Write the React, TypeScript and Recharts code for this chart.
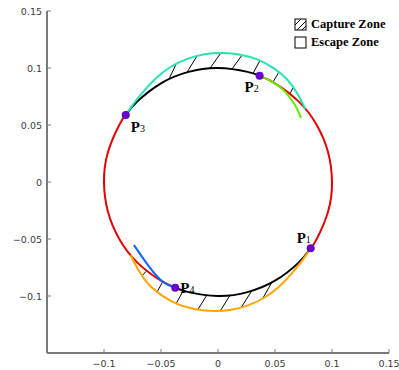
import { ComposedChart, Line, Scatter, XAxis, YAxis, ReferenceLine } from 'recharts';

const TICKS = [-0.1, -0.05, 0, 0.05, 0.1, 0.15];

// circle arcs (radius 0.1)
const blackTop = [
  { x: -0.0809, y: 0.0588 }, { x: -0.0707, y: 0.0707 }, { x: -0.05, y: 0.0866 },
  { x: -0.0259, y: 0.0966 }, { x: 0, y: 0.1 }, { x: 0.0259, y: 0.0966 }, { x: 0.0365, y: 0.0931 },
];
const redRight = [
  { x: 0.0365, y: 0.0931 }, { x: 0.05, y: 0.0866 }, { x: 0.0707, y: 0.0707 }, { x: 0.0866, y: 0.05 },
  { x: 0.0966, y: 0.0259 }, { x: 0.1, y: 0 }, { x: 0.0966, y: -0.0259 }, { x: 0.0866, y: -0.05 },
  { x: 0.0813, y: -0.0582 },
];
const blackBottom = [
  { x: 0.0813, y: -0.0582 }, { x: 0.0707, y: -0.0707 }, { x: 0.05, y: -0.0866 },
  { x: 0.0259, y: -0.0966 }, { x: 0, y: -0.1 }, { x: -0.0259, y: -0.0966 }, { x: -0.0375, y: -0.0927 },
];
const redLeft = [
  { x: -0.0375, y: -0.0927 }, { x: -0.05, y: -0.0866 }, { x: -0.0707, y: -0.0707 },
  { x: -0.0866, y: -0.05 }, { x: -0.0966, y: -0.0259 }, { x: -0.1, y: 0 },
  { x: -0.0966, y: 0.0259 }, { x: -0.0866, y: 0.05 }, { x: -0.0809, y: 0.0588 },
];

// outer boundaries of the capture zones
const cyanCurve = [
  { x: -0.0809, y: 0.0588 }, { x: -0.0728, y: 0.0703 }, { x: -0.0636, y: 0.0814 },
  { x: -0.0532, y: 0.0921 }, { x: -0.0409, y: 0.1013 }, { x: -0.0269, y: 0.108 },
  { x: -0.0118, y: 0.1121 }, { x: 0.004, y: 0.1132 }, { x: 0.0197, y: 0.1116 },
  { x: 0.0349, y: 0.1073 }, { x: 0.0487, y: 0.0999 }, { x: 0.0607, y: 0.0899 },
  { x: 0.0697, y: 0.0774 }, { x: 0.0766, y: 0.0643 },
];
const orangeCurve = [
  { x: -0.0766, y: -0.0643 }, { x: -0.0697, y: -0.0774 }, { x: -0.0607, y: -0.0899 },
  { x: -0.0487, y: -0.0999 }, { x: -0.0349, y: -0.1073 }, { x: -0.0197, y: -0.1116 },
  { x: -0.004, y: -0.1132 }, { x: 0.0118, y: -0.1121 }, { x: 0.0269, y: -0.108 },
  { x: 0.0409, y: -0.1013 }, { x: 0.0532, y: -0.0921 }, { x: 0.0636, y: -0.0814 },
  { x: 0.0728, y: -0.0703 }, { x: 0.0813, y: -0.0582 },
];
const greenCurve = [
  { x: 0.0365, y: 0.0931 }, { x: 0.0544, y: 0.0833 }, { x: 0.0675, y: 0.0675 }, { x: 0.0728, y: 0.0561 },
];
const blueCurve = [
  { x: -0.0737, y: -0.0553 }, { x: -0.0596, y: -0.0754 }, { x: -0.0482, y: -0.0877 }, { x: -0.0375, y: -0.0927 },
];

// hatch segments [x1, y1, x2, y2]
const hatchTop = [
  [-0.043, 0.0903, -0.0367, 0.1036], [-0.0272, 0.0962, -0.0184, 0.1106],
  [-0.007, 0.0998, 0.0026, 0.1133], [0.0123, 0.0992, 0.0211, 0.1113],
  [0.0307, 0.0952, 0.0368, 0.1065], [0.0482, 0.0876, 0.0534, 0.0964],
  [0.0632, 0.0775, 0.066, 0.083],
];
const hatchBottom = [
  [-0.0666, -0.0822, -0.0626, -0.078], [-0.0534, -0.0964, -0.0485, -0.0875],
  [-0.0367, -0.1065, -0.0304, -0.0953], [-0.0177, -0.1119, -0.0099, -0.0995],
  [0.002, -0.1131, 0.0105, -0.0994], [0.0204, -0.11, 0.0296, -0.0955],
  [0.0392, -0.1022, 0.0471, -0.0882],
];

const points = [
  { name: '1', x: 0.0813, y: -0.0582 },
  { name: '2', x: 0.0365, y: 0.0931 },
  { name: '3', x: -0.0809, y: 0.0588 },
  { name: '4', x: -0.0375, y: -0.0927 },
];

const legendItems = ['Capture Zone', 'Escape Zone'];

const labelOffset: Record<string, [number, number]> = {
  '1': [-14, -5],
  '2': [-15, 16],
  '3': [5, 17],
  '4': [5, 5],
};

const AXIS = '#7a7a7a';
const SERIF = '"Liberation Serif", "Times New Roman", serif';
const SANS = '"DejaVu Sans", sans-serif';

const fmt = (v: number) => (v < 0 ? '\u2212' + String(-v) : String(v));

const XTick = (props: any) => {
  const { x, y, payload } = props;
  const axisY = y - 4;
  return (
    <g>
      <line x1={x} x2={x} y1={axisY} y2={axisY - 4} stroke={AXIS} strokeWidth={1} />
      <text x={x} y={axisY + 14} textAnchor="middle" fontSize={9.5} fontFamily={SANS} fill="#3a3a3a">
        {fmt(payload.value)}
      </text>
    </g>
  );
};

const YTick = (props: any) => {
  const { x, y, payload } = props;
  const axisX = x + 4;
  return (
    <g>
      <line x1={axisX} x2={axisX + 4} y1={y} y2={y} stroke={AXIS} strokeWidth={1} />
      <text x={axisX - 5} y={y + 3.5} textAnchor="end" fontSize={9.5} fontFamily={SANS} fill="#3a3a3a">
        {fmt(payload.value)}
      </text>
    </g>
  );
};

const PointShape = (props: any) => {
  const { cx, cy, payload } = props;
  const [dx, dy] = labelOffset[payload.name];
  return (
    <g>
      <circle cx={cx} cy={cy} r={4} fill="#6600cc" />
      <text x={cx + dx} y={cy + dy} fontFamily={SERIF} fill="#000">
        <tspan fontSize={15} fontWeight="bold">P</tspan>
        <tspan fontSize={10}>{payload.name}</tspan>
      </text>
    </g>
  );
};

const LegendBox = () => (
  <div style={{ position: 'absolute', left: 294, top: 15, fontFamily: SERIF, fontWeight: 'bold', fontSize: 12.5 }}>
    {legendItems.map((name, i) => (
      <div key={name} style={{ display: 'flex', alignItems: 'center', height: 18 }}>
        <svg width={14} height={13} style={{ marginRight: 3 }}>
          <rect x={1} y={1} width={11} height={11} fill="#fff" stroke="#000" strokeWidth={1} />
          {i === 0 && (
            <g stroke="#000" strokeWidth={1}>
              <line x1={1} y1={7} x2={7} y2={1} />
              <line x1={3} y1={12} x2={12} y2={3} />
              <line x1={8} y1={12} x2={12} y2={8} />
            </g>
          )}
        </svg>
        <span>{name}</span>
      </div>
    ))}
  </div>
);

const curves: [any[], string][] = [
  [blackTop, '#000'],
  [blackBottom, '#000'],
  [redRight, '#e60000'],
  [redLeft, '#e60000'],
  [cyanCurve, '#22e6b0'],
  [orangeCurve, '#ffa500'],
  [greenCurve, '#66ee00'],
  [blueCurve, '#0a64ff'],
];

export default function App() {
  return (
    <div style={{ position: 'relative', width: 399, height: 370, background: '#fff' }}>
      <style>{'body{margin:0}'}</style>
      <ComposedChart width={399} height={370} margin={{ top: 11, right: 10, bottom: 0, left: 0 }}>
        <XAxis
          type="number"
          dataKey="x"
          domain={[-0.15, 0.15]}
          ticks={TICKS}
          interval={0}
          allowDataOverflow
          height={17}
          tickSize={0}
          tickMargin={4}
          tickLine={false}
          axisLine={{ stroke: AXIS, strokeWidth: 2 }}
          tick={<XTick />}
        />
        <YAxis
          type="number"
          dataKey="y"
          domain={[-0.15, 0.15]}
          ticks={TICKS}
          interval={0}
          allowDataOverflow
          width={47}
          tickSize={0}
          tickMargin={4}
          tickLine={false}
          axisLine={{ stroke: AXIS, strokeWidth: 2 }}
          tick={<YTick />}
        />
        {hatchTop.concat(hatchBottom).map((s, i) => (
          <ReferenceLine
            key={'h' + i}
            segment={[{ x: s[0], y: s[1] }, { x: s[2], y: s[3] }]}
            stroke="#000"
            strokeWidth={1}
          />
        ))}
        {curves.map(([d, c], i) => (
          <Line
            key={'c' + i}
            data={d}
            dataKey="y"
            type="natural"
            stroke={c}
            strokeWidth={2}
            dot={false}
            activeDot={false}
            isAnimationActive={false}
          />
        ))}
        <Scatter data={points} dataKey="y" shape={<PointShape />} isAnimationActive={false} />
      </ComposedChart>
      <LegendBox />
    </div>
  );
}
